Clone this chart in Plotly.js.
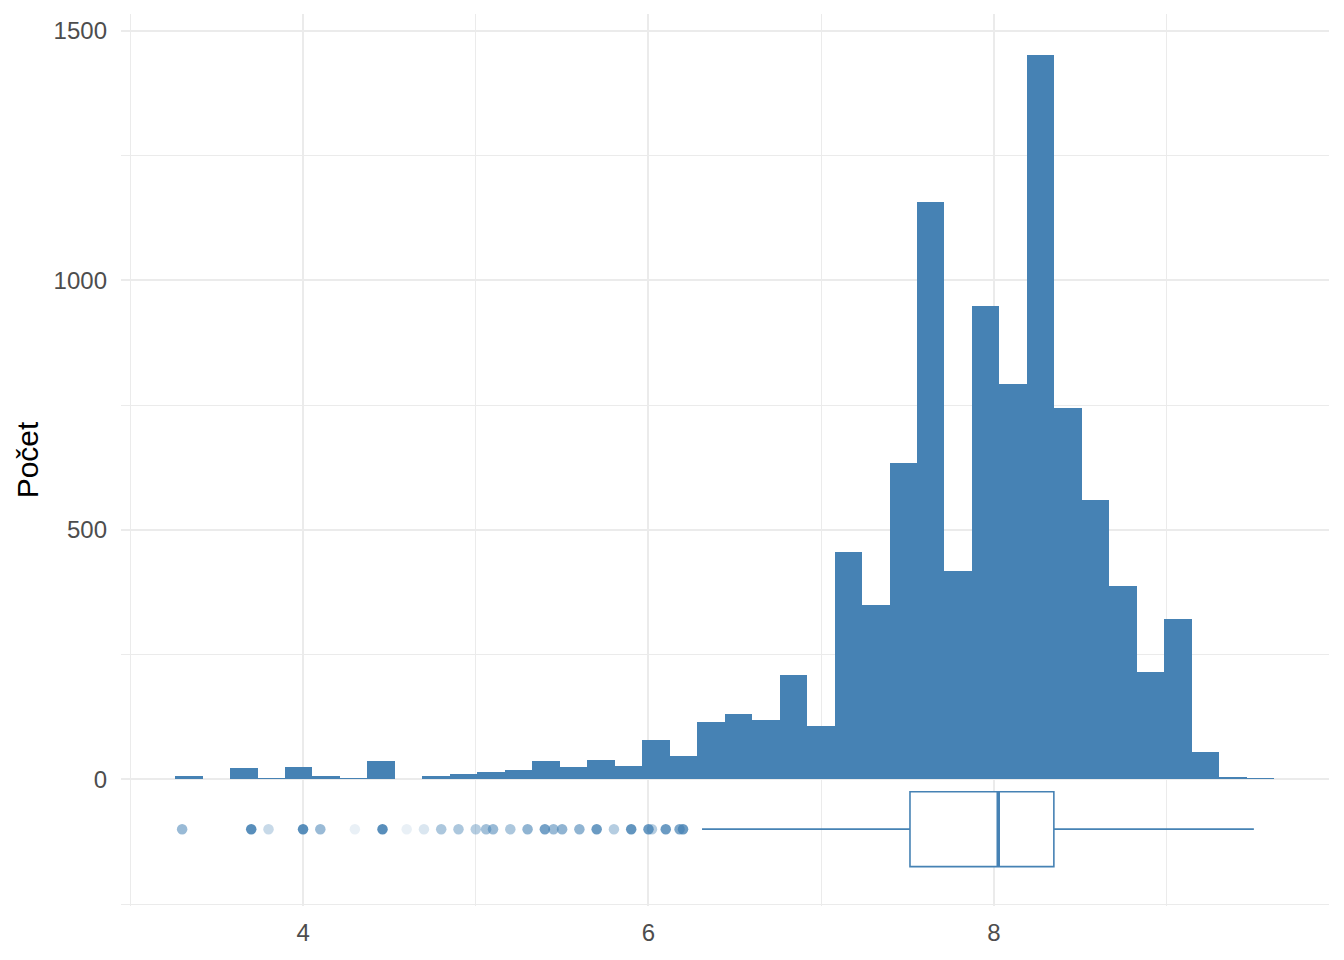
<!DOCTYPE html>
<html>
<head>
<meta charset="utf-8">
<script src="https://cdn.plot.ly/plotly-3.0.1.min.js"></script>
<style>html,body{margin:0;padding:0;background:#fff;}#chart{width:1344px;height:960px;}</style>
</head>
<body>
<div id="chart"></div>
<script>
// Histogram bins (centers) and counts
const binCenters = [3.339,3.498,3.657,3.816,3.975,4.134,4.293,4.452,4.611,4.770,
                    4.930,5.089,5.248,5.407,5.566,5.725,5.884,6.043,6.202,6.361,
                    6.520,6.680,6.839,6.998,7.157,7.316,7.475,7.634,7.793,7.952,
                    8.111,8.270,8.430,8.589,8.748,8.907,9.066,9.225,9.384,9.543];
const binWidth = 0.159;
const counts = [7,0,23,3,25,7,2,37,1,7,
                11,15,19,37,25,39,27,78,46,114,
                130,118,210,106,456,350,633,1157,417,948,
                793,1451,745,559,388,216,322,54,4,2];

// Box plot summary
const boxCenter = -100;
const boxHeight = 150;
const q1 = 7.514, median = 8.025, q3 = 8.347;
const lowerWhisker = 6.31, upperWhisker = 9.505;

// Outliers and their drawn opacity (overlap density)
const outlierX = [3.3,3.7,3.8,4.0,4.1,4.3,4.46,4.6,4.7,4.8,4.9,5.0,5.06,5.1,5.2,5.3,5.4,5.45,5.5,5.6,5.7,5.8,5.9,6.0,6.02,6.1,6.18,6.2];
const outlierAlpha = [0.55,0.9,0.3,0.9,0.55,0.12,0.9,0.12,0.2,0.45,0.45,0.4,0.5,0.55,0.45,0.6,0.75,0.55,0.6,0.6,0.8,0.4,0.85,0.8,0.4,0.8,0.7,0.8];

const yTickVals = [0,500,1000,1500];
const xTickVals = [4,6,8];

const steel = '#4682B4';

const bars = {
  type: 'bar', x: binCenters, y: counts, width: binWidth,
  marker: {color: steel, line: {width: 0}}, hoverinfo: 'x+y', showlegend: false
};

const box = {
  type: 'box', orientation: 'h', y: [boxCenter],
  q1: [q1], median: [median], q3: [q3],
  lowerfence: [lowerWhisker], upperfence: [upperWhisker],
  width: boxHeight, whiskerwidth: 0, boxpoints: false,
  fillcolor: 'rgba(255,255,255,1)', line: {color: steel, width: 1.6},
  showlegend: false
};

const medianLine = {
  type: 'scatter', mode: 'lines',
  x: [median, median], y: [boxCenter - boxHeight/2, boxCenter + boxHeight/2],
  line: {color: steel, width: 3.5}, showlegend: false, hoverinfo: 'skip'
};

const outliers = {
  type: 'scatter', mode: 'markers',
  x: outlierX, y: outlierX.map(() => boxCenter),
  marker: {color: steel, size: 10.5, opacity: outlierAlpha, line: {width: 0}},
  showlegend: false
};

const tickFont = {family: 'Liberation Sans, Arial, sans-serif', size: 24, color: '#4D4D4D'};

const layout = {
  width: 1344, height: 960,
  margin: {l: 121, r: 15, t: 14, b: 54},
  paper_bgcolor: '#fff', plot_bgcolor: '#fff',
  showlegend: false, bargap: 0,
  xaxis: {
    range: [2.946, 9.94], tickvals: xTickVals, ticktext: xTickVals.map(String),
    showgrid: true, gridcolor: '#EBEBEB', gridwidth: 2,
    minor: {dtick: 1, tick0: 0, showgrid: true, gridcolor: '#EBEBEB', gridwidth: 1},
    zeroline: false, showline: false, ticks: '', tickfont: tickFont,
    ticklabelstandoff: 10
  },
  yaxis: {
    range: [-254, 1534], tickvals: yTickVals, ticktext: yTickVals.map(String),
    showgrid: true, gridcolor: '#EBEBEB', gridwidth: 2,
    minor: {dtick: 250, tick0: 0, showgrid: true, gridcolor: '#EBEBEB', gridwidth: 1},
    zeroline: false, showline: false, ticks: '', tickfont: tickFont,
    ticklabelstandoff: 13,
    title: {text: 'Počet', font: {family: 'Liberation Sans, Arial, sans-serif', size: 30, color: '#000'}, standoff: 6},
    automargin: false
  }
};

Plotly.newPlot('chart', [bars, box, medianLine, outliers], layout, {displayModeBar: false, staticPlot: true});
</script>
</body>
</html>
